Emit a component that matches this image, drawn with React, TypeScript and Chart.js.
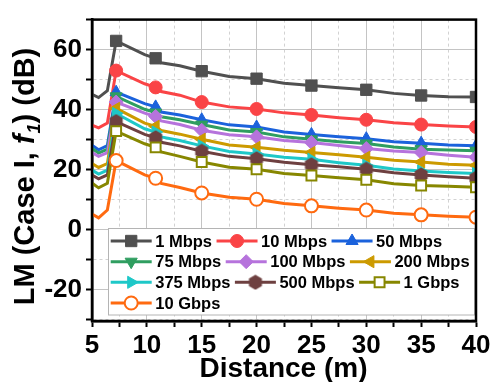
import React, { useEffect, useRef } from 'react';
import { Chart, registerables } from 'chart.js';
import { drawPoint } from 'chart.js/helpers';

Chart.register(...registerables);

const distances = [5, 5.6, 6.4, 7.2, 9.8, 10.8, 11.3, 13, 15, 17.5, 20, 22.5, 25, 27.5, 30, 32.5, 35, 37.5, 40];
const markerIndices = [3, 5, 8, 10, 12, 14, 16, 18];

const seriesLabels = ['1 Mbps', '10 Mbps', '50 Mbps', '75 Mbps', '100 Mbps', '200 Mbps', '375 Mbps', '500 Mbps', '1 Gbps', '10 Gbps'];

const lm1Mbps = [45.1, 44.0, 46.3, 62.9, 58.3, 57.1, 55.6, 54.6, 52.8, 51.0, 50.3, 48.8, 48.0, 47.3, 46.6, 45.4, 44.7, 44.3, 44.2];
const lm10Mbps = [34.8, 33.9, 35.5, 53.0, 48.6, 47.4, 46.0, 44.8, 42.5, 40.9, 40.2, 38.9, 38.2, 37.3, 36.6, 35.6, 35.0, 34.5, 34.2];
const lm50Mbps = [28.1, 26.6, 28.0, 45.8, 42.0, 40.9, 39.2, 38.2, 36.6, 34.9, 34.2, 32.5, 31.7, 30.9, 30.3, 29.3, 28.8, 28.2, 27.9];
const lm75Mbps = [27.0, 25.5, 26.8, 44.4, 40.1, 39.0, 37.6, 36.6, 35.0, 33.2, 32.5, 30.9, 30.1, 29.3, 28.7, 27.5, 26.8, 26.5, 26.3];
const lm100Mbps = [25.7, 24.4, 25.6, 42.5, 38.8, 37.7, 36.2, 35.0, 33.1, 31.6, 30.9, 29.7, 29.0, 28.0, 27.0, 26.2, 25.7, 24.8, 24.1];
const lm200Mbps = [22.0, 20.7, 22.0, 40.4, 35.5, 34.4, 33.0, 31.8, 30.1, 28.2, 27.4, 26.4, 25.7, 24.9, 24.1, 23.1, 22.5, 21.8, 21.4];
const lm375Mbps = [19.8, 18.5, 19.8, 38.7, 33.6, 32.5, 30.9, 29.7, 27.9, 26.0, 25.2, 24.1, 23.4, 22.3, 21.4, 20.2, 19.5, 19.0, 18.7];
const lm500Mbps = [18.2, 16.9, 18.2, 36.0, 31.7, 30.6, 29.1, 27.9, 26.1, 24.4, 23.6, 22.4, 21.6, 20.9, 20.1, 18.9, 18.2, 17.6, 17.1];
const lm1Gbps = [15.5, 13.9, 15.4, 32.8, 28.6, 27.4, 25.9, 24.4, 22.5, 20.8, 20.1, 18.7, 18.0, 17.3, 16.6, 15.3, 14.7, 14.4, 14.1];
const lm10Gbps = [5.2, 3.9, 6.5, 23.0, 18.2, 17.1, 15.4, 14.0, 12.2, 10.8, 10.1, 8.7, 7.9, 7.1, 6.5, 5.4, 4.9, 4.4, 4.1];

const seriesValues = [lm1Mbps, lm10Mbps, lm50Mbps, lm75Mbps, lm100Mbps, lm200Mbps, lm375Mbps, lm500Mbps, lm1Gbps, lm10Gbps];

const xTickValues = [5, 7.5, 10, 12.5, 15, 17.5, 20, 22.5, 25, 27.5, 30, 32.5, 35, 37.5, 40];
const yTickValues = [-30, -20, -10, 0, 10, 20, 30, 40, 50, 60, 70];

const colors = ['#505050', '#fa4446', '#1b62dc', '#2f9e60', '#b673dc', '#cc9a00', '#1ec8c8', '#6e4040', '#878700', '#ff6a10'];
const styleNames = ['rect', 'circle', 'triangle', 'triangle', 'rectRot', 'triangle', 'triangle', 'hex', 'rect', 'circle'];
const rotations = [0, 0, 0, 180, 0, -90, 90, 0, 0, 0];
const radii = [8, 6.5, 7, 7, 7, 7, 7, 7, 7, 6.5];
const hollow = [false, false, false, false, false, false, false, false, true, true];
const legendRows = [[0, 1, 2], [3, 4, 5], [6, 7, 8], [9]];

const FONT = '"Liberation Sans", Arial, sans-serif';

function makeHex(color: string): HTMLCanvasElement {
  const c = document.createElement('canvas');
  c.width = 16;
  c.height = 16;
  const g = c.getContext('2d')!;
  g.fillStyle = color;
  g.beginPath();
  for (let k = 0; k < 6; k++) {
    const a = -Math.PI / 2 + (k * Math.PI) / 3;
    const px = 8 + Math.cos(a) * 7.5;
    const py = 8 + Math.sin(a) * 7.5;
    if (k === 0) g.moveTo(px, py);
    else g.lineTo(px, py);
  }
  g.closePath();
  g.fill();
  return c;
}

export default function App() {
  const ref = useRef<HTMLCanvasElement | null>(null);

  useEffect(() => {
    const canvas = ref.current;
    if (!canvas) return;
    const hex = makeHex(colors[7]);
    const styles: any[] = styleNames.map((s) => (s === 'hex' ? hex : s));

    const datasets = seriesValues.map((vals, i) => ({
      label: seriesLabels[i],
      data: distances.map((x, j) => ({ x, y: vals[j] })),
      borderColor: colors[i],
      backgroundColor: colors[i],
      borderWidth: 3,
      tension: 0,
      pointStyle: styles[i],
      pointRotation: rotations[i],
      pointRadius: (c: any) => (markerIndices.includes(c.dataIndex) ? radii[i] : 0),
      pointHoverRadius: (c: any) => (markerIndices.includes(c.dataIndex) ? radii[i] : 0),
      pointBackgroundColor: hollow[i] ? '#ffffff' : colors[i],
      pointBorderColor: colors[i],
      pointBorderWidth: hollow[i] ? 2 : 1,
      order: 20 - i,
    }));

    const decor = {
      id: 'decor',
      afterDatasetsDraw(chart: any) {
        const ctx = chart.ctx as CanvasRenderingContext2D;
        ctx.save();
        ctx.fillStyle = '#ffffff';
        ctx.fillRect(108.5, 228.5, 366, 86.5);
        ctx.strokeStyle = '#b4b4b4';
        ctx.lineWidth = 1;
        ctx.strokeRect(108.5, 228.5, 366, 86.5);
        ctx.font = `bold 16.5px ${FONT}`;
        ctx.textBaseline = 'middle';
        ctx.textAlign = 'left';
        const rowY = [241, 261.7, 282.3, 303];
        legendRows.forEach((row, r) => {
          let x = 110.7;
          const y = rowY[r];
          row.forEach((i) => {
            ctx.strokeStyle = colors[i];
            ctx.lineWidth = 3;
            ctx.beginPath();
            ctx.moveTo(x, y);
            ctx.lineTo(x + 41, y);
            ctx.stroke();
            ctx.fillStyle = hollow[i] ? '#ffffff' : colors[i];
            ctx.strokeStyle = colors[i];
            ctx.lineWidth = hollow[i] ? 2 : 1;
            drawPoint(ctx, { pointStyle: styles[i], rotation: rotations[i], radius: radii[i], borderWidth: hollow[i] ? 2 : 1 } as any, x + 20.5, y);
            ctx.fillStyle = '#000000';
            const tx = x + 44.5;
            ctx.fillText(seriesLabels[i], tx, y + 1);
            x = tx + ctx.measureText(seriesLabels[i]).width + 4.5;
          });
        });
        ctx.restore();
      },
      afterDraw(chart: any) {
        const ctx = chart.ctx as CanvasRenderingContext2D;
        const a = chart.chartArea;
        ctx.save();
        ctx.strokeStyle = '#000';
        ctx.lineWidth = 2.5;
        ctx.strokeRect(a.left, a.top, a.right - a.left, a.bottom - a.top);

        ctx.fillStyle = '#000';
        ctx.font = `bold 28px ${FONT}`;
        ctx.textAlign = 'center';
        ctx.textBaseline = 'alphabetic';
        ctx.fillText('Distance (m)', 283.5, 376.5);

        const parts = [
          { t: 'LM (Case I, ', f: `bold 29px ${FONT}`, dy: 0 },
          { t: 'f', f: `italic bold 29px ${FONT}`, dy: 0 },
          { t: '1', f: `italic bold 18px ${FONT}`, dy: 6 },
          { t: ') (dB)', f: `bold 29px ${FONT}`, dy: 0 },
        ];
        let total = 0;
        const widths = parts.map((p) => {
          ctx.font = p.f;
          const w = ctx.measureText(p.t).width;
          total += w;
          return w;
        });
        ctx.translate(34, 177);
        ctx.rotate(-Math.PI / 2);
        ctx.textAlign = 'left';
        let px = -total / 2;
        parts.forEach((p, k) => {
          ctx.font = p.f;
          ctx.fillText(p.t, px, p.dy);
          px += widths[k] + (p.t === 'f' ? 1 : 0);
        });
        ctx.restore();
      },
    };

    const minorDash = (c: any) => {
      if (!c || !c.tick) return [];
      const v = c.tick.value;
      return c.scale && c.scale.axis === 'x' ? (v % 5 === 0 ? [] : [3, 3]) : (v % 20 === 0 ? [] : [3, 3]);
    };

    const chart = new Chart(canvas, {
      type: 'line',
      data: { datasets: datasets as any },
      options: {
        animation: false,
        responsive: false,
        maintainAspectRatio: false,
        layout: { padding: { left: 0, right: 18, top: 11, bottom: 0 } },
        plugins: { legend: { display: false }, tooltip: { enabled: false }, title: { display: false } },
        scales: {
          x: {
            type: 'linear',
            min: 5,
            max: 40,
            afterBuildTicks: (s: any) => {
              s.ticks = xTickValues.map((v) => ({ value: v }));
            },
            afterFit: (s: any) => {
              s.height = 61;
            },
            ticks: {
              autoSkip: false,
              maxRotation: 0,
              color: '#000',
              padding: 3,
              font: { family: FONT, size: 26, weight: 'bold' },
              callback: (v: any) => (Number(v) % 5 === 0 ? String(v) : ''),
            },
            grid: {
              color: (c: any) => (c.tick && c.tick.value % 5 === 0 ? '#c4c4c4' : '#d2d2d2'),
              lineWidth: 1,
              tickColor: '#000',
              tickLength: 6,
              tickWidth: 2,
            },
            border: { color: '#000', width: 2.5, dash: minorDash as any },
          },
          y: {
            type: 'linear',
            min: -30.5,
            max: 70,
            afterBuildTicks: (s: any) => {
              s.ticks = yTickValues.map((v) => ({ value: v }));
            },
            afterFit: (s: any) => {
              s.width = 92;
            },
            ticks: {
              autoSkip: false,
              color: '#000',
              padding: 4,
              font: { family: FONT, size: 26, weight: 'bold' },
              callback: (v: any) => (Number(v) % 20 === 0 ? String(v) : ''),
            },
            grid: {
              color: (c: any) => (c.tick && c.tick.value % 20 === 0 ? '#c4c4c4' : '#d2d2d2'),
              lineWidth: 1,
              tickColor: '#000',
              tickLength: 6,
              tickWidth: 2,
            },
            border: { color: '#000', width: 2.5, dash: minorDash as any },
          },
        },
      },
      plugins: [decor],
    });

    return () => {
      chart.destroy();
    };
  }, []);

  return (
    <div style={{ position: 'fixed', left: 0, top: 0, width: 494, height: 382, background: '#fff' }}>
      <canvas ref={ref} width={494} height={382} style={{ display: 'block', width: 494, height: 382 }} />
    </div>
  );
}
